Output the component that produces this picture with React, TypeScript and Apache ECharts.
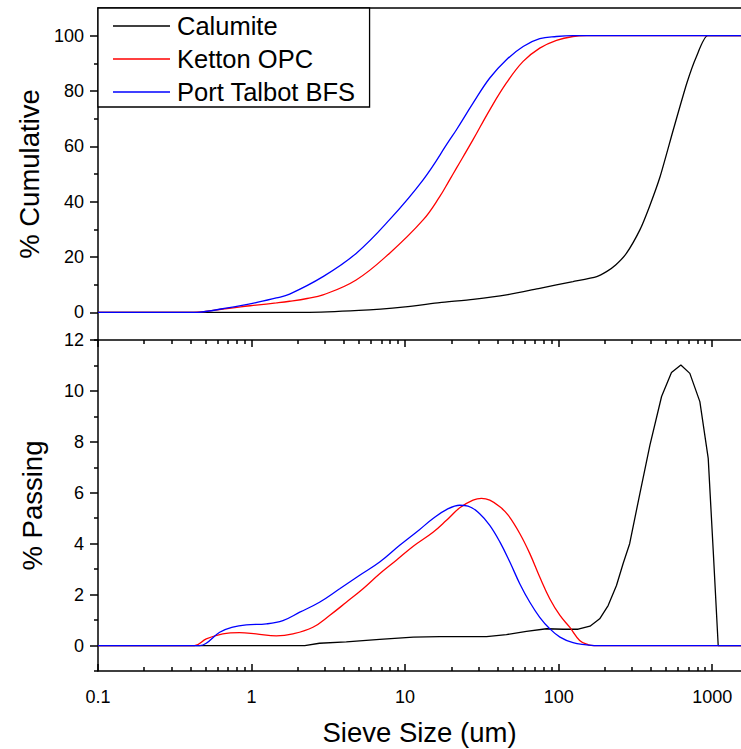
import React, { useEffect, useRef } from "react";
import * as echarts from "echarts";

// ---- Cumulative (top panel) ----
const calumiteCumSize = [0.1, 2.2, 5, 10, 16.8, 27.7, 45.7, 75.3, 124, 177, 205, 235, 276, 338, 390, 458, 558, 684, 790, 935, 1540];
const calumiteCum = [0, 0, 0.7, 2.0, 3.5, 4.7, 6.3, 8.7, 11.1, 12.9, 14.7, 17.1, 21.3, 29.8, 38.2, 49.1, 66.0, 82.9, 92.5, 100, 100];

const kettonCumSize = [0.1, 0.42, 0.5, 0.65, 0.85, 1.07, 1.45, 1.77, 2.3, 2.92, 4.8, 7.9, 13.1, 16.8, 19.5, 21.6, 27.7, 35.6, 45.7, 58.7, 75.3, 96.8, 124, 152, 1540];
const kettonCum = [0, 0, 0.3, 1.2, 2.0, 2.6, 3.4, 4.0, 5.0, 6.3, 11.7, 21.3, 33.4, 41.8, 47.9, 52.1, 62.4, 73.2, 82.9, 90.7, 95.5, 98.3, 99.7, 100, 100];

const talbotCumSize = [0.1, 0.44, 0.5, 0.65, 0.85, 1.07, 1.45, 1.77, 2.92, 4.8, 7.9, 13.1, 19.5, 21.6, 27.7, 35.6, 45.7, 58.7, 75.3, 96.8, 124, 1540];
const talbotCum = [0, 0, 0.3, 1.3, 2.4, 3.5, 5.2, 6.6, 12.9, 21.3, 33.4, 47.9, 62.3, 66.0, 75.6, 84.7, 91.3, 96.1, 98.9, 99.7, 100, 100];

// ---- Passing (bottom panel) ----
const calumitePassSize = [0.1, 2.22, 2.77, 4.14, 6.83, 11.3, 16.8, 20.5, 33.9, 45.7, 61.7, 83.3, 107, 134, 160, 185, 210, 238, 263, 290, 338, 393, 468, 543, 625, 715, 831, 942, 1015, 1094, 1540];
const calumitePass = [0, 0, 0.09, 0.14, 0.24, 0.33, 0.35, 0.35, 0.35, 0.43, 0.56, 0.66, 0.64, 0.64, 0.76, 1.05, 1.57, 2.36, 3.22, 4.0, 5.97, 7.87, 9.78, 10.72, 11.02, 10.69, 9.58, 7.35, 3.74, 0, 0];

const kettonPassSize = [0.1, 0.425, 0.507, 0.65, 0.836, 1.07, 1.45, 1.86, 2.51, 3.22, 4.14, 5.32, 6.83, 8.77, 11.3, 15.2, 18.6, 22.7, 27.7, 31.4, 35.6, 41.4, 46.9, 55.8, 64.9, 75.3, 87.5, 102, 118, 137, 156, 170, 1540];
const kettonPass = [0, 0, 0.26, 0.46, 0.51, 0.46, 0.38, 0.46, 0.72, 1.18, 1.7, 2.23, 2.82, 3.35, 3.9, 4.45, 4.92, 5.41, 5.71, 5.78, 5.71, 5.45, 5.12, 4.4, 3.61, 2.69, 1.84, 1.18, 0.72, 0.2, 0.03, 0, 0];

const talbotPassSize = [0.1, 0.46, 0.507, 0.62, 0.755, 0.924, 1.25, 1.6, 2.06, 2.77, 3.75, 5.06, 6.83, 9.22, 12.4, 15.2, 18.6, 22.7, 25.7, 30.6, 35.6, 41.4, 48.1, 55.8, 64.9, 75.3, 87.5, 102, 124, 152, 170, 1540];
const talbotPass = [0, 0, 0.09, 0.52, 0.72, 0.81, 0.85, 0.98, 1.31, 1.7, 2.23, 2.76, 3.28, 3.94, 4.55, 4.99, 5.34, 5.51, 5.48, 5.18, 4.72, 4.07, 3.28, 2.43, 1.7, 1.11, 0.66, 0.33, 0.11, 0.03, 0, 0];

// ---- Axis ticks ----
const xMajor = [0.1, 1, 10, 100, 1000];
const xMinor = [0.2, 0.3, 0.4, 0.5, 0.6, 0.7, 0.8, 0.9, 2, 3, 4, 5, 6, 7, 8, 9, 20, 30, 40, 50, 60, 70, 80, 90, 200, 300, 400, 500, 600, 700, 800, 900];
const cumMajor = [0, 20, 40, 60, 80, 100];
const cumMinor = [-10, 10, 30, 50, 70, 90];
const passMajor = [0, 2, 4, 6, 8, 10, 12];
const passMinor = [-1, 1, 3, 5, 7, 9, 11];

const names = ["Calumite", "Ketton OPC", "Port Talbot BFS"];
const colors = ["#000000", "#ff0000", "#0000ff"];

const FONT = "Liberation Sans, Arial, sans-serif";
const X_MIN = 0.1;
const X_MAX = 1540;

const zip = (xs: number[], ys: number[]) => xs.map((x, i) => [x, ys[i]]);

export default function App() {
  const ref = useRef<HTMLDivElement>(null);
  useEffect(() => {
    if (!ref.current) return;
    const chart = echarts.init(ref.current, null, { renderer: "svg" });
    const axisLine = { show: true, onZero: false, lineStyle: { color: "#000", width: 1.5 } };
    const noLine = { show: false, onZero: false };
    const baseX = (gridIndex: number, position: string) => ({
      type: "log",
      logBase: 10,
      gridIndex,
      position,
      min: X_MIN,
      max: X_MAX,
      splitLine: { show: false },
      axisLine: noLine,
      axisTick: { show: false },
      axisLabel: { show: false },
    });
    const tick = (len: number, values: number[], inside: boolean) => ({
      show: true,
      inside,
      length: len,
      customValues: values,
      lineStyle: { color: "#000", width: 1.5 },
    });
    const xAxis: any[] = [
      { ...baseX(0, "bottom") },
      { ...baseX(0, "top"), axisLine },
      {
        ...baseX(1, "bottom"),
        axisLine,
        axisTick: tick(7, xMajor, true),
        axisLabel: {
          show: true,
          customValues: xMajor,
          formatter: (v: number) => String(Number(v.toPrecision(6))),
          fontSize: 18,
          fontFamily: FONT,
          color: "#000",
          margin: 17,
        },
        name: "Sieve Size (um)",
        nameLocation: "middle",
        nameGap: 47,
        nameTextStyle: { fontSize: 27.5, fontFamily: FONT, color: "#000" },
      },
      { ...baseX(1, "top"), axisLine, axisTick: tick(7, xMajor, true) },
      { ...baseX(1, "bottom"), axisTick: tick(4, xMinor, true) },
      { ...baseX(1, "top"), axisTick: tick(4, xMinor, true) },
    ];
    const baseY = (gridIndex: number, min: number, max: number) => ({
      type: "value",
      gridIndex,
      position: "left",
      min,
      max,
      splitLine: { show: false },
      axisLine: noLine,
      axisTick: { show: false },
      axisLabel: { show: false },
    });
    const yAxis: any[] = [
      {
        ...baseY(0, -10, 110),
        axisLine,
        axisTick: tick(8, cumMajor, false),
        axisLabel: { show: true, customValues: cumMajor, fontSize: 18, fontFamily: FONT, color: "#000", margin: 14 },
        name: "% Cumulative",
        nameLocation: "middle",
        nameGap: 52,
        nameTextStyle: { fontSize: 27.5, fontFamily: FONT, color: "#000" },
      },
      { ...baseY(0, -10, 110), axisTick: tick(4, cumMinor, false) },
      {
        ...baseY(1, -1, 12),
        axisLine,
        axisTick: tick(8, passMajor, false),
        axisLabel: { show: true, customValues: passMajor, fontSize: 18, fontFamily: FONT, color: "#000", margin: 14 },
        name: "% Passing",
        nameLocation: "middle",
        nameGap: 52,
        nameTextStyle: { fontSize: 27.5, fontFamily: FONT, color: "#000" },
      },
      { ...baseY(1, -1, 12), axisTick: tick(4, passMinor, false) },
    ];
    const topData = [zip(calumiteCumSize, calumiteCum), zip(kettonCumSize, kettonCum), zip(talbotCumSize, talbotCum)];
    const botData = [zip(calumitePassSize, calumitePass), zip(kettonPassSize, kettonPass), zip(talbotPassSize, talbotPass)];
    const series: any[] = [];
    names.forEach((n, i) => {
      series.push({
        type: "line",
        name: n,
        xAxisIndex: 0,
        yAxisIndex: 0,
        data: topData[i],
        symbol: "none",
        smooth: i === 0 ? 0.2 : 0.4,
        lineStyle: { color: colors[i], width: 1.3 },
        itemStyle: { color: colors[i] },
      });
    });
    names.forEach((n, i) => {
      series.push({
        type: "line",
        name: n,
        xAxisIndex: 2,
        yAxisIndex: 2,
        data: botData[i],
        symbol: "none",
        smooth: i === 0 ? false : 0.4,
        lineStyle: { color: colors[i], width: 1.3 },
        itemStyle: { color: colors[i] },
      });
    });
    chart.setOption({
      animation: false,
      backgroundColor: "#ffffff",
      grid: [
        { left: 98, right: 0, top: 8, height: 332 },
        { left: 98, right: 0, top: 340, height: 331 },
      ],
      xAxis,
      yAxis,
      legend: {
        data: names,
        orient: "vertical",
        left: 98,
        top: 8,
        padding: [5, 14, 2, 15],
        itemGap: 7,
        itemWidth: 57,
        itemHeight: 1.5,
        icon: "rect",
        borderColor: "#000",
        borderWidth: 1.3,
        backgroundColor: "#ffffff",
        textStyle: { fontSize: 25.5, fontFamily: FONT, color: "#000", padding: [0, 0, 0, 2] },
      },
      series,
    });
    return () => chart.dispose();
  }, []);
  return (
    <div
      ref={ref}
      style={{ position: "absolute", left: 0, top: 0, width: 741, height: 749, background: "#fff" }}
    />
  );
}
